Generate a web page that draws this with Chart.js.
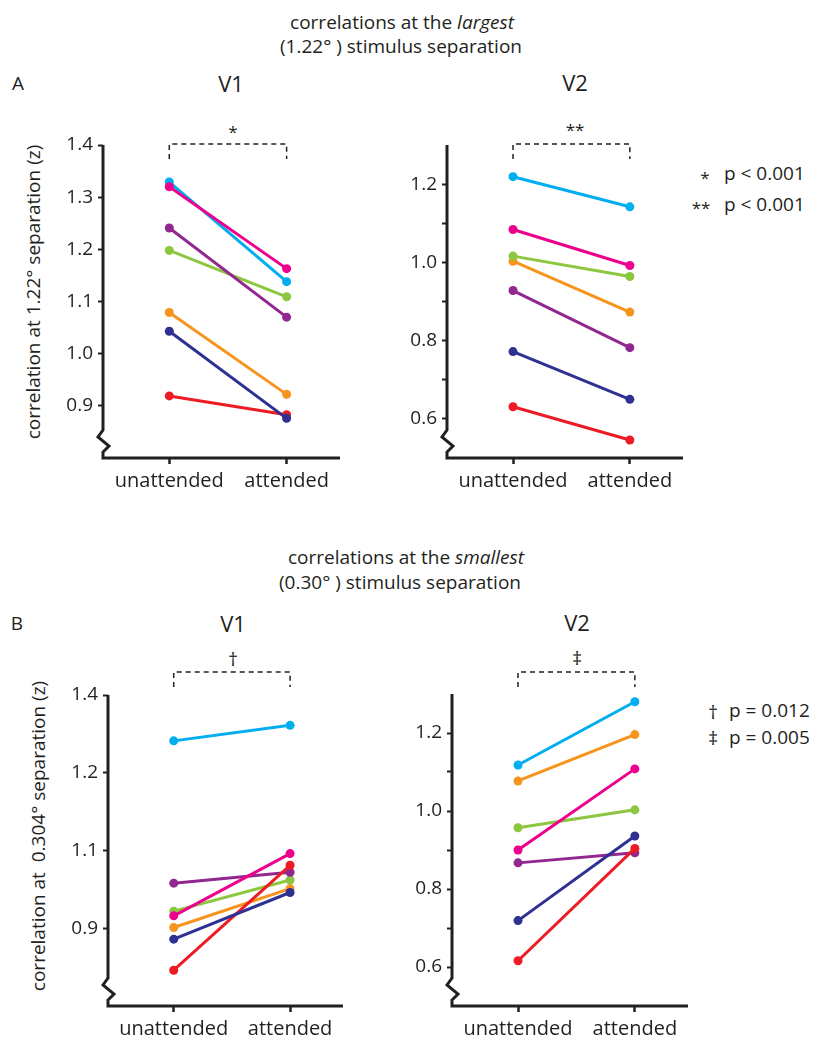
<!DOCTYPE html>
<html><head><meta charset="utf-8">
<script src="https://cdn.jsdelivr.net/npm/chart.js@4"></script>
<style>
html,body{margin:0;padding:0;background:#fff}
body{width:831px;height:1050px;position:relative;overflow:hidden;font-family:'Open Sans',sans-serif;color:#231f20}
.t{position:absolute;white-space:nowrap;line-height:1;transform:translate(-50%,-50%)}
.l{position:absolute;white-space:nowrap;line-height:1;transform:translate(0,-50%)}
.r{position:absolute;white-space:nowrap;line-height:1;transform:translate(-50%,-50%) rotate(-90deg)}
canvas{position:absolute}
</style></head><body>

<div class="t" style="left:402px;top:22px;font-size:19px">correlations at the <i>largest</i></div>
<div class="t" style="left:401px;top:46px;font-size:19px">(1.22° ) stimulus separation</div>
<div class="t" style="left:18px;top:83px;font-size:19px">A</div>
<div class="t" style="left:231px;top:83px;font-size:22px">V1</div>
<div class="t" style="left:575px;top:82px;font-size:22px">V2</div>
<div class="t" style="left:233px;top:131px;font-size:17px">*</div>
<div class="t" style="left:575px;top:129px;font-size:17px">**</div>
<div class="t" style="left:705px;top:177px;font-size:17px">*</div>
<div class="l" style="left:724px;top:173px;font-size:19px">p &lt; 0.001</div>
<div class="t" style="left:701px;top:207px;font-size:17px">**</div>
<div class="l" style="left:724px;top:204px;font-size:19px">p &lt; 0.001</div>
<div class="r" style="left:33px;top:292px;font-size:19px">correlation at 1.22° separation (z)</div>

<div class="t" style="left:406px;top:557px;font-size:19px">correlations at the <i>smallest</i></div>
<div class="t" style="left:400px;top:582px;font-size:19px">(0.30° ) stimulus separation</div>
<div class="t" style="left:17px;top:623px;font-size:19px">B</div>
<div class="t" style="left:233px;top:623px;font-size:22px">V1</div>
<div class="t" style="left:577px;top:622px;font-size:22px">V2</div>
<div class="t" style="left:233px;top:659px;font-size:19px">†</div>
<div class="t" style="left:577px;top:658px;font-size:19px">‡</div>
<div class="t" style="left:713px;top:712px;font-size:19px">†</div>
<div class="l" style="left:729px;top:710px;font-size:19px">p = 0.012</div>
<div class="t" style="left:713px;top:738px;font-size:19px">‡</div>
<div class="l" style="left:729px;top:737px;font-size:19px">p = 0.005</div>
<div class="r" style="left:38px;top:836px;font-size:19px">correlation at&nbsp; 0.304° separation (z)</div>

<canvas id="aV1"></canvas>
<canvas id="aV2"></canvas>
<canvas id="bV1"></canvas>
<canvas id="bV2"></canvas>

<script>
// ---- data ----
const categories = ['unattended', 'attended'];
const seriesNames = ['unit 1', 'unit 2', 'unit 3', 'unit 4', 'unit 5', 'unit 6', 'unit 7'];

// A: largest (1.22°) separation
const aV1Unattended = [1.329, 1.320, 1.241, 1.198, 1.079, 1.043, 0.919];
const aV1Attended   = [1.138, 1.163, 1.070, 1.109, 0.922, 0.876, 0.883];
const aV2Unattended = [1.219, 1.084, 0.928, 1.016, 1.003, 0.772, 0.631];
const aV2Attended   = [1.142, 0.992, 0.782, 0.964, 0.873, 0.650, 0.546];

// B: smallest (0.30°) separation
const bV1Unattended = [1.241, 1.016, 1.058, 1.022, 1.001, 0.986, 0.946];
const bV1Attended   = [1.261, 1.096, 1.072, 1.062, 1.051, 1.046, 1.081];
const bV2Unattended = [1.118, 0.900, 0.867, 0.957, 1.077, 0.719, 0.616];
const bV2Attended   = [1.280, 1.108, 0.893, 1.003, 1.196, 0.936, 0.904];

// tick labels
const aV1TickValues = [0.9, 1.0, 1.1, 1.2, 1.3, 1.4];
const aV1TickLabels = ['0.9', '1.0', '1.1', '1.2', '1.3', '1.4'];
const v2TickValues  = [0.6, 0.7, 0.8, 0.9, 1.0, 1.1, 1.2];
const v2TickLabels  = ['0.6', '', '0.8', '', '1.0', '', '1.2'];
const bV1TickValues = [1.0, 1.1, 1.2, 1.3];
const bV1TickLabels = ['0.9', '1.1', '1.2', '1.4'];

// ---- styles ----
const seriesColors = ['#00aeef', '#ec008c', '#92278f', '#8dc63f', '#f7941d', '#2e3192', '#ed1c24'];
const drawOrder = [5, 3, 4, 6, 7, 1, 2]; // lower = drawn on top
const INK = '#231f20';
const FONT = "'Open Sans', sans-serif";

const axisPlugin = {
  id: 'axisPlugin',
  afterDraw(chart, args, opts) {
    const ctx = chart.ctx, a = chart.chartArea, xs = chart.scales.x;
    ctx.save();
    ctx.strokeStyle = INK;
    ctx.lineWidth = 3;
    ctx.lineJoin = 'miter';
    const x = a.left, b = a.bottom;
    ctx.beginPath();
    ctx.moveTo(x, a.top);
    ctx.lineTo(x, b - 28);
    ctx.lineTo(x - 5, b - 21);
    ctx.lineTo(x + 6, b - 12);
    ctx.lineTo(x, b - 6);
    ctx.lineTo(x, b);
    ctx.lineTo(a.right, b);
    ctx.stroke();
    // significance bracket
    const x0 = xs.getPixelForValue(0), x1 = xs.getPixelForValue(1);
    const by = a.top - opts.bracketAbove;
    ctx.lineWidth = 1.5;
    ctx.setLineDash([5, 4]);
    ctx.beginPath();
    ctx.moveTo(x0, by + 15);
    ctx.lineTo(x0, by);
    ctx.lineTo(x1, by);
    ctx.lineTo(x1, by + 15);
    ctx.stroke();
    ctx.restore();
  }
};

function makePanel(id, area, uns, atts, yMin, yMax, tickVals, tickLabels, bracketAbove) {
  const yw = 100, padTop = 40, padRight = 30, xh = 50;
  const cv = document.getElementById(id);
  const w = area.right - area.left + yw + padRight;
  const h = area.bottom - area.top + padTop + xh;
  cv.width = w; cv.height = h;
  cv.style.left = (area.left - yw) + 'px';
  cv.style.top = (area.top - padTop) + 'px';
  cv.style.width = w + 'px'; cv.style.height = h + 'px';

  const datasets = seriesNames.map((name, i) => ({
    label: name,
    data: [{x: 0, y: uns[i]}, {x: 1, y: atts[i]}],
    borderColor: seriesColors[i],
    backgroundColor: seriesColors[i],
    pointBackgroundColor: seriesColors[i],
    pointBorderColor: seriesColors[i],
    borderWidth: 3,
    pointRadius: 4.5,
    pointBorderWidth: 0,
    order: drawOrder[i],
    clip: false
  }));

  new Chart(cv, {
    type: 'line',
    data: {datasets},
    options: {
      responsive: false,
      animation: false,
      devicePixelRatio: 1,
      layout: {padding: {top: padTop, right: padRight, left: 0, bottom: 0}},
      plugins: {legend: {display: false}, tooltip: {enabled: false}, axisPlugin: {bracketAbove}},
      scales: {
        x: {
          type: 'linear', min: -0.565, max: 1.455,
          afterBuildTicks: s => { s.ticks = categories.map((c, i) => ({value: i})); },
          afterFit: s => { s.height = xh; },
          border: {display: false},
          grid: {drawOnChartArea: false, drawTicks: true, tickLength: 6, tickColor: INK, tickWidth: 2.5},
          ticks: {autoSkip: false, maxRotation: 0, padding: 5, color: INK,
                  font: {family: FONT, size: 20},
                  callback: v => categories[v]}
        },
        y: {
          type: 'linear', min: yMin, max: yMax,
          afterBuildTicks: s => { s.ticks = tickVals.map(v => ({value: v})); },
          afterFit: s => { s.width = yw; },
          border: {display: false},
          grid: {drawOnChartArea: false, drawTicks: true, tickLength: 5, tickColor: INK, tickWidth: 2},
          ticks: {autoSkip: false, padding: 5, color: INK,
                  font: {family: FONT, size: 19},
                  callback: (v, i) => tickLabels[i]}
        }
      }
    },
    plugins: [axisPlugin]
  });
}

makePanel('aV1', {left: 103, top: 145, right: 340, bottom: 458}, aV1Unattended, aV1Attended, 0.8, 1.4, aV1TickValues, aV1TickLabels, 1);
makePanel('aV2', {left: 447, top: 145, right: 683, bottom: 458}, aV2Unattended, aV2Attended, 0.5, 1.3, v2TickValues, v2TickLabels, 1);
makePanel('bV1', {left: 108, top: 695, right: 343, bottom: 1006}, bV1Unattended, bV1Attended, 0.9, 1.3, bV1TickValues, bV1TickLabels, 23);
makePanel('bV2', {left: 452, top: 694, right: 688, bottom: 1006}, bV2Unattended, bV2Attended, 0.5, 1.3, v2TickValues, v2TickLabels, 22);
</script>
</body></html>
